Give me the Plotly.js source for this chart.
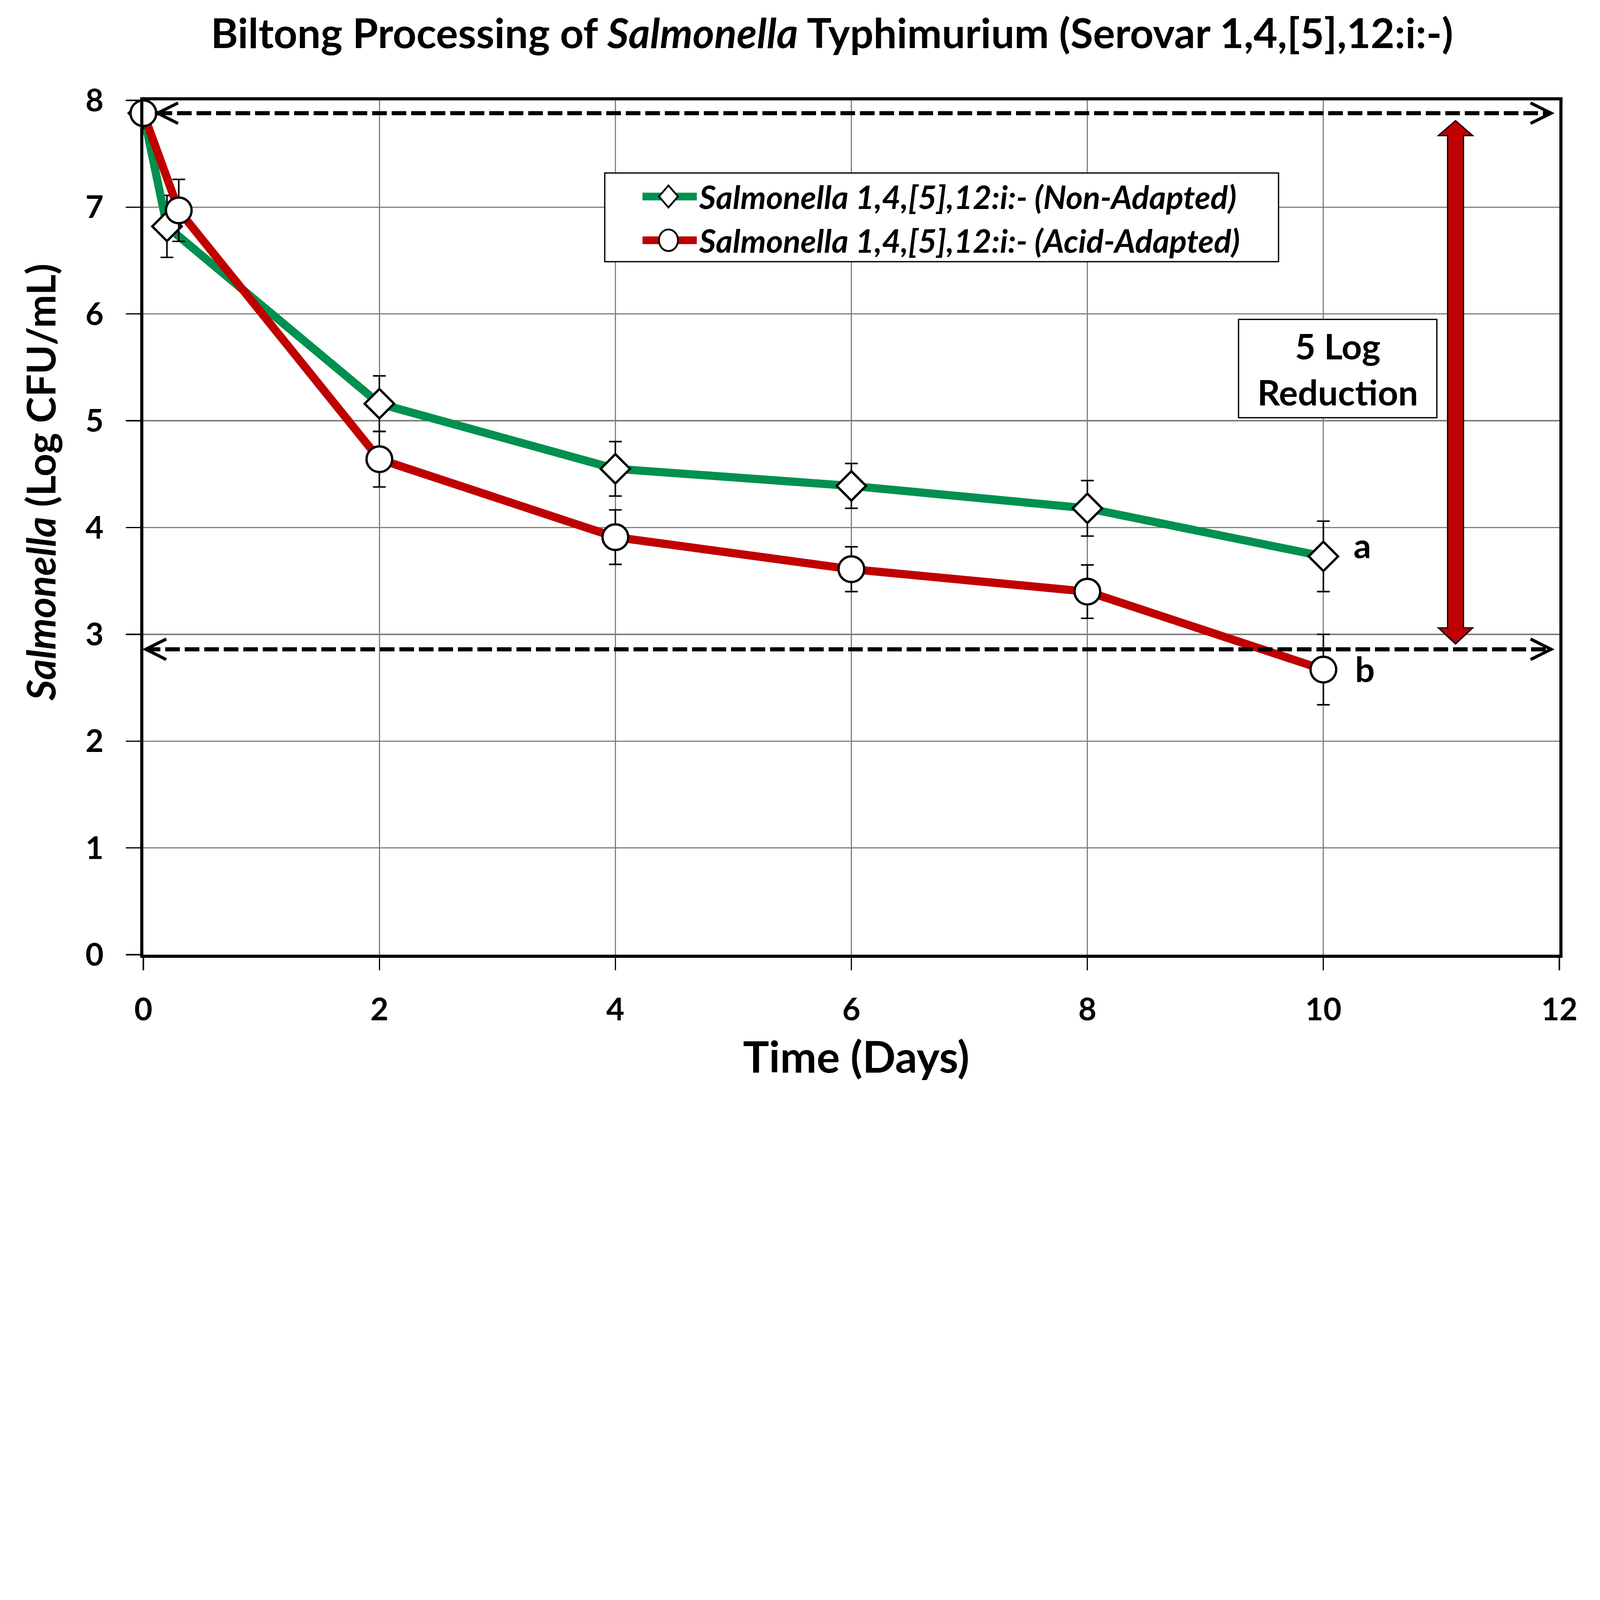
<!DOCTYPE html>
<html>
<head>
<meta charset="utf-8">
<script src="https://cdn.plot.ly/plotly-3.0.1.min.js"></script>
<style>html,body{margin:0;padding:0;background:#fff;overflow:hidden;}#chart{position:absolute;left:0;top:0;}</style>
</head>
<body>
<div id="chart"></div>
<script>
// ---- data ----
const daysNonAdapted = [0, 0.2, 2, 4, 6, 8, 10];
const logNonAdapted  = [7.88, 6.82, 5.16, 4.55, 4.39, 4.18, 3.73];
const sdNonAdapted   = [0, 0.29, 0.26, 0.255, 0.21, 0.26, 0.33];

const daysAcidAdapted = [0, 0.3, 2, 4, 6, 8, 10];
const logAcidAdapted  = [7.88, 6.97, 4.64, 3.91, 3.61, 3.40, 2.67];
const sdAcidAdapted   = [0, 0.29, 0.26, 0.255, 0.21, 0.25, 0.33];

const xTickVals = [0, 2, 4, 6, 8, 10, 12];
const yTickVals = [0, 1, 2, 3, 4, 5, 6, 7, 8];

const nameNonAdapted  = 'Salmonella 1,4,[5],12:i:- (Non-Adapted)';
const nameAcidAdapted = 'Salmonella 1,4,[5],12:i:- (Acid-Adapted)';
const sigLetters = ['a', 'b'];
const refHigh = 7.88;   // initial level (dashed reference)
const refLow  = 2.86;   // 5 log reduction level (dashed reference)

// ---- sizing (designed for 6233 x 4213, scaled to fit the window) ----
const BASE_W = 6233, BASE_H = 4213;
const winW = window.innerWidth || BASE_W, winH = window.innerHeight || BASE_H;
const k = Math.min(winW / BASE_W, winH / BASE_H);
const W = Math.round(BASE_W * k), H = Math.round(BASE_H * k);
const px = v => v * k;
const ipx = v => Math.round(v * k);
const p = v => (v * k).toFixed(2);

const GREEN = '#00904F';
const RED = '#C00000';
const FONT = 'Lato, "Open Sans", "DejaVu Sans", sans-serif';
const bold = size => ({family: FONT, size: px(size), color: '#000', weight: 700});

function series(x, y, sd, name, color, symbol, size) {
  return {
    type: 'scatter', mode: 'lines+markers', name: name,
    x: x, y: y,
    error_y: {type: 'data', array: sd, visible: true, color: '#000', thickness: px(6), width: px(25)},
    line: {color: color, width: px(32)},
    marker: {symbol: symbol, size: px(size), color: '#fff', line: {color: '#000', width: px(9)}},
    showlegend: false, cliponaxis: false
  };
}

const traces = [
  series(daysNonAdapted, logNonAdapted, sdNonAdapted, nameNonAdapted, GREEN, 'diamond', 88),
  series(daysAcidAdapted, logAcidAdapted, sdAcidAdapted, nameAcidAdapted, RED, 'circle', 100)
];

const axisCommon = {
  showgrid: true, gridcolor: '#808080', gridwidth: px(5),
  showline: true, linecolor: '#000', linewidth: px(12), mirror: true,
  ticks: 'outside', tickcolor: '#000', tickwidth: px(5),
  zeroline: false,
  tickfont: bold(122)
};

// legend box geometry (data coords of the plot)
const legX0 = 3.91, legX1 = 9.62, legY0 = 6.49, legY1 = 7.32;
const legRowY = [7.10, 6.69];
const keyX0 = 4.23, keyX1 = 4.69, keyMid = 4.45, legTextX = 4.70;
const arrowX = 11.12;

const chevL = 'M' + p(80) + ',' + p(40) + ' L0,0 L' + p(80) + ',' + p(-40);
const chevR = 'M' + p(-80) + ',' + p(40) + ' L0,0 L' + p(-80) + ',' + p(-40);
const dashPat = p(57) + 'px,' + p(19) + 'px';

const shapes = [
  // legend box
  {type: 'rect', xref: 'x', yref: 'y', x0: legX0, x1: legX1, y0: legY0, y1: legY1,
   fillcolor: '#fff', line: {color: '#000', width: px(5)}, layer: 'above'},
  // legend keys
  {type: 'line', xref: 'x', yref: 'y', x0: keyX0, x1: keyX1, y0: legRowY[0], y1: legRowY[0],
   line: {color: GREEN, width: px(30)}, layer: 'above'},
  {type: 'path', xref: 'x', yref: 'y', xsizemode: 'pixel', ysizemode: 'pixel',
   xanchor: keyMid, yanchor: legRowY[0],
   path: 'M0,' + p(43) + ' L' + p(37) + ',0 L0,' + p(-43) + ' L' + p(-37) + ',0 Z',
   fillcolor: '#fff', line: {color: '#000', width: px(7)}, layer: 'above'},
  {type: 'line', xref: 'x', yref: 'y', x0: keyX0, x1: keyX1, y0: legRowY[1], y1: legRowY[1],
   line: {color: RED, width: px(30)}, layer: 'above'},
  {type: 'circle', xref: 'x', yref: 'y', xsizemode: 'pixel', ysizemode: 'pixel',
   xanchor: keyMid, yanchor: legRowY[1], x0: px(-37), x1: px(37), y0: px(-42), y1: px(42),
   fillcolor: '#fff', line: {color: '#000', width: px(7)}, layer: 'above'},
  // dashed reference lines
  {type: 'line', xref: 'x', yref: 'y', x0: 0.12, x1: 11.93, y0: refHigh, y1: refHigh,
   line: {color: '#000', width: px(16), dash: dashPat}, layer: 'above'},
  {type: 'line', xref: 'x', yref: 'y', x0: 0.02, x1: 11.93, y0: refLow, y1: refLow,
   line: {color: '#000', width: px(16), dash: dashPat}, layer: 'above'},
  // chevron heads
  {type: 'path', xref: 'x', yref: 'y', xsizemode: 'pixel', ysizemode: 'pixel', xanchor: 0.12, yanchor: refHigh,
   path: chevL, line: {color: '#000', width: px(12)}, layer: 'above'},
  {type: 'path', xref: 'x', yref: 'y', xsizemode: 'pixel', ysizemode: 'pixel', xanchor: 11.93, yanchor: refHigh,
   path: chevR, line: {color: '#000', width: px(12)}, layer: 'above'},
  {type: 'path', xref: 'x', yref: 'y', xsizemode: 'pixel', ysizemode: 'pixel', xanchor: 0.02, yanchor: refLow,
   path: chevL, line: {color: '#000', width: px(12)}, layer: 'above'},
  {type: 'path', xref: 'x', yref: 'y', xsizemode: 'pixel', ysizemode: 'pixel', xanchor: 11.93, yanchor: refLow,
   path: chevR, line: {color: '#000', width: px(12)}, layer: 'above'},
  // double-headed block arrow (5 log reduction span)
  {type: 'path', xref: 'x', yref: 'y', xsizemode: 'pixel', xanchor: arrowX,
   path: 'M0,' + (refHigh - 0.07) + ' L' + p(67) + ',' + (refHigh - 0.21) + ' L' + p(31) + ',' + (refHigh - 0.21) +
         ' L' + p(31) + ',' + (refLow + 0.20) + ' L' + p(67) + ',' + (refLow + 0.20) + ' L0,' + (refLow + 0.05) +
         ' L' + p(-67) + ',' + (refLow + 0.20) + ' L' + p(-31) + ',' + (refLow + 0.20) + ' L' + p(-31) + ',' + (refHigh - 0.21) +
         ' L' + p(-67) + ',' + (refHigh - 0.21) + ' Z',
   fillcolor: RED, line: {color: '#000', width: px(5)}, layer: 'above'}
];

const annotations = [
  {xref: 'x', yref: 'y', x: legTextX, y: legRowY[0], xanchor: 'left', yanchor: 'middle',
   text: '<i>' + nameNonAdapted + '</i>', showarrow: false, font: bold(126)},
  {xref: 'x', yref: 'y', x: legTextX, y: legRowY[1], xanchor: 'left', yanchor: 'middle',
   text: '<i>' + nameAcidAdapted + '</i>', showarrow: false, font: bold(126)},
  {xref: 'x', yref: 'y', x: 10.12, y: 5.49, xanchor: 'center', yanchor: 'middle',
   text: '5 Log<br>Reduction', showarrow: false, align: 'center',
   width: px(760), height: px(370), bgcolor: '#fff', bordercolor: '#000', borderwidth: px(5), borderpad: px(4),
   font: bold(138)},
  {xref: 'x', yref: 'y', x: 10.33, y: 3.84, xanchor: 'center', yanchor: 'middle',
   text: sigLetters[0], showarrow: false, font: bold(135)},
  {xref: 'x', yref: 'y', x: 10.35, y: 2.68, xanchor: 'center', yanchor: 'middle',
   text: sigLetters[1], showarrow: false, font: bold(135)},
  // y-axis title
  {xref: 'paper', yref: 'paper', x: -0.073, y: 0.553, xanchor: 'center', yanchor: 'middle',
   textangle: -90, showarrow: false,
   text: '<i>Salmonella</i> (Log CFU/mL)', font: bold(155)},
  // x-axis title
  {xref: 'paper', yref: 'paper', x: 0.5034, y: -0.1184, xanchor: 'center', yanchor: 'middle',
   showarrow: false, text: 'Time (Days)', font: bold(170)}
];

const layout = {
  width: W, height: H,
  paper_bgcolor: '#fff', plot_bgcolor: '#fff',
  margin: {l: px(559), r: px(159), t: px(391), b: px(494), pad: 0},
  title: {
    text: 'Biltong Processing of <i>Salmonella</i> Typhimurium (Serovar 1,4,[5],12:i:-)',
    font: bold(161),
    x: 0.52, xanchor: 'center', xref: 'container',
    y: 0.969, yanchor: 'middle', yref: 'container'
  },
  xaxis: Object.assign({}, axisCommon, {
    range: [0, 12], tickvals: xTickVals, ticklen: px(49), ticklabelstandoff: ipx(48)
  }),
  yaxis: Object.assign({}, axisCommon, {
    range: [0, 8], tickvals: yTickVals, ticklen: px(56), ticklabelstandoff: ipx(62)
  }),
  shapes: shapes,
  annotations: annotations,
  showlegend: false
};

Plotly.newPlot('chart', traces, layout, {staticPlot: true, displayModeBar: false});
</script>
</body>
</html>
